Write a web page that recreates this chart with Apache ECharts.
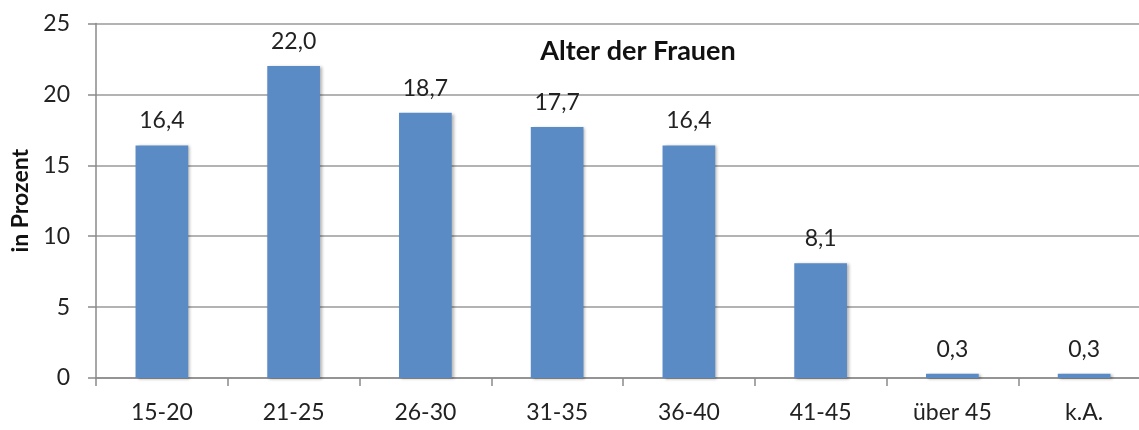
<!DOCTYPE html>
<html><head><meta charset="utf-8">
<script src="https://cdn.jsdelivr.net/npm/echarts@6/dist/echarts.min.js"></script>
<style>html,body{margin:0;padding:0;background:#fff}#c{width:1139px;height:430px}</style>
</head><body><div id="c"></div>
<script>
const categories = ['15-20','21-25','26-30','31-35','36-40','41-45','über 45','k.A.'];
const values = [16.4, 22.0, 18.7, 17.7, 16.4, 8.1, 0.3, 0.3];
const yTicks = [0, 5, 10, 15, 20, 25];
const titleText = 'Alter der Frauen';
const yName = 'in Prozent';

const FONT = 'Lato';
const chart = echarts.init(document.getElementById('c'), null, {renderer:'canvas'});
chart.setOption({
  animation:false,
  title:{text:titleText, left:633, top:33, textAlign:'center',
    textStyle:{fontFamily:FONT, fontWeight:'bold', fontSize:27, color:'#111'}},
  grid:{left:96, top:23.5, bottom:52, width:1054, outerBoundsMode:'none', containLabel:false},
  xAxis:{type:'category', data:categories,
    axisLine:{lineStyle:{color:'#8a8a8a', width:1.5}},
    axisTick:{show:true, length:8, lineStyle:{color:'#8a8a8a', width:1.5}},
    axisLabel:{fontFamily:FONT, fontSize:23, color:'#222', margin:23}},
  yAxis:{type:'value', min:yTicks[0], max:yTicks[yTicks.length-1], interval:5,
    name:yName, nameLocation:'middle', nameGap:63, nameRotate:90,
    nameTextStyle:{fontFamily:FONT, fontWeight:'bold', fontSize:23, color:'#111'},
    axisLine:{show:true, lineStyle:{color:'#8a8a8a', width:1.5}},
    axisTick:{show:true, length:8, lineStyle:{color:'#8a8a8a', width:1.5}},
    splitLine:{lineStyle:{color:'#9a9a9a', width:1.5}},
    axisLabel:{fontFamily:FONT, fontSize:23, color:'#222', margin:26}},
  series:[{type:'bar', data:values, barWidth:'40%',
    itemStyle:{color:'#5B8BC5', shadowColor:'rgba(0,0,0,0.3)', shadowBlur:3, shadowOffsetX:2, shadowOffsetY:1},
    label:{show:true, position:'top', distance:13, fontFamily:FONT, fontSize:23, color:'#222',
      formatter:p=>p.value.toFixed(1).replace('.',',')}}]
});
</script></body></html>
